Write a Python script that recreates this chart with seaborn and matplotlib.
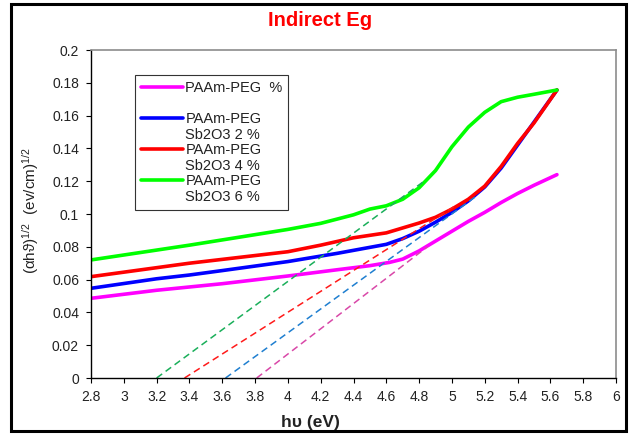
import numpy as np
import pandas as pd
import matplotlib
matplotlib.use("Agg")
import matplotlib.pyplot as plt
import seaborn as sns
from matplotlib.lines import Line2D
from matplotlib.patches import Rectangle
from matplotlib.ticker import FuncFormatter

# values: photon energy (eV) vs (alpha h nu)^1/2
x_peg = [2.8, 3.2, 3.6, 4.0, 4.3, 4.5, 4.62, 4.7, 4.8, 4.9, 5.0, 5.1, 5.2, 5.3, 5.4, 5.5, 5.64]
y_peg = [0.0486, 0.0535, 0.0575, 0.0622, 0.066, 0.0685, 0.0705, 0.0725, 0.0775, 0.0835,
         0.0895, 0.0955, 0.101, 0.107, 0.1125, 0.1175, 0.124]

x_sb2 = [2.8, 3.2, 3.4, 3.6, 4.0, 4.3, 4.6, 4.7, 4.8, 4.9, 5.0, 5.1, 5.2, 5.3, 5.4, 5.5, 5.64]
y_sb2 = [0.0547, 0.0605, 0.0628, 0.0655, 0.071, 0.076, 0.0815, 0.085, 0.0895, 0.095,
         0.101, 0.108, 0.1165, 0.128, 0.142, 0.156, 0.1756]

x_sb4 = [2.8, 3.4, 4.0, 4.2, 4.4, 4.6, 4.7, 4.8, 4.9, 5.0, 5.1, 5.2, 5.3, 5.4, 5.5, 5.64]
y_sb4 = [0.0618, 0.07, 0.077, 0.081, 0.0855, 0.0885, 0.0915, 0.0945, 0.098, 0.103,
         0.109, 0.117, 0.129, 0.143, 0.1555, 0.1756]

x_sb6 = [2.8, 3.4, 4.0, 4.2, 4.4, 4.5, 4.6, 4.7, 4.8, 4.9, 5.0, 5.1, 5.2, 5.3, 5.4, 5.5, 5.64]
y_sb6 = [0.072, 0.081, 0.0906, 0.0943, 0.0995, 0.103, 0.105, 0.109, 0.116, 0.1265,
         0.141, 0.153, 0.162, 0.1685, 0.1712, 0.173, 0.1756]

# tangent (extrapolation) lines: x-intercept and upper end point
tan_x = {"peg": [3.81, 4.85], "sb2": [3.62, 5.15], "sb4": [3.37, 5.02], "sb6": [3.20, 4.83]}
tan_y = {"peg": [0.0, 0.080], "sb2": [0.0, 0.111], "sb4": [0.0, 0.105], "sb6": [0.0, 0.120]}

series_names = ["peg", "sb2", "sb4", "sb6"]
curve_colors = {"peg": "#ff00ff", "sb2": "#0000ff", "sb4": "#ff0000", "sb6": "#00ff00"}
dash_colors = {"peg": "#d948a8", "sb2": "#1f7fd0", "sb4": "#ff1a1a", "sb6": "#1aaf5a"}
legend_lines = {
    "peg": ["PAAm-PEG  %", " "],
    "sb2": ["PAAm-PEG", "Sb2O3 2 %"],
    "sb4": ["PAAm-PEG", "Sb2O3 4 %"],
    "sb6": ["PAAm-PEG", "Sb2O3 6 %"],
}

df = pd.concat([
    pd.DataFrame({"hv": x_peg, "val": y_peg, "series": "peg"}),
    pd.DataFrame({"hv": x_sb2, "val": y_sb2, "series": "sb2"}),
    pd.DataFrame({"hv": x_sb4, "val": y_sb4, "series": "sb4"}),
    pd.DataFrame({"hv": x_sb6, "val": y_sb6, "series": "sb6"}),
], ignore_index=True)

sns.set_theme(style="white")
plt.rcParams["font.family"] = ["Liberation Sans", "DejaVu Sans"]
plt.rcParams["mathtext.default"] = "regular"

fig = plt.figure(figsize=(6.3, 4.36), dpi=100)
ax = fig.add_axes([91 / 630, 1 - 378 / 436, 525 / 630, 328 / 436])

for name in series_names:
    sub = df[df["series"] == name]
    sns.lineplot(data=sub, x="hv", y="val", color=curve_colors[name], linewidth=2.6,
                 estimator=None, sort=False, ax=ax, legend=False)

for name in series_names:
    sns.lineplot(x=tan_x[name], y=tan_y[name], color=dash_colors[name], linewidth=1.1,
                 linestyle=(0, (4.5, 2.8)), estimator=None, ax=ax, legend=False)

ax.set_xlim(2.8, 6.0)
ax.set_ylim(0, 0.2)
ax.set_xticks(np.round(np.arange(2.8, 6.01, 0.2), 1))
ax.set_yticks(np.round(np.arange(0, 0.201, 0.02), 2))
fmt = FuncFormatter(lambda v, p: f"{round(v, 2):g}")
ax.xaxis.set_major_formatter(fmt)
ax.yaxis.set_major_formatter(fmt)
ax.tick_params(axis="both", which="major", direction="out", length=3.6, width=0.8,
               color="black", labelsize=10, labelcolor="#222222", pad=5,
               bottom=True, left=True)

for side in ["left", "bottom"]:
    ax.spines[side].set_color("black")
    ax.spines[side].set_linewidth(1.0)
for side in ["top", "right"]:
    ax.spines[side].set_color("#8c8c8c")
    ax.spines[side].set_linewidth(1.2)

ax.set_xlabel("h\u03c5 (eV)", fontsize=12.5, fontweight="bold", color="#222222")
ax.xaxis.set_label_coords((310 - 91) / 525, -0.112)
ax.set_ylabel("(\u03b1h\u03d1)$^{1/2}$  (ev/cm)$^{1/2}$", fontsize=11, color="#222222")
ax.yaxis.set_label_coords(-0.095, 0.51)

fig.text(0.508, 1 - 21 / 436, "Indirect Eg", color="#ff0000", fontsize=14.5,
         fontweight="bold", ha="center", va="center")

# legend: first line carries the handle, second line hangs below it
handles, labels = [], []
for name in series_names:
    first, second = legend_lines[name]
    handles.append(Line2D([], [], color=curve_colors[name], linewidth=2.6))
    labels.append(first)
    handles.append(Line2D([], [], color="none"))
    labels.append(second)
leg = ax.legend(handles, labels, loc="upper left",
                bbox_to_anchor=((135 - 91) / 525, 1 - (75 - 50) / 328),
                borderaxespad=0, fontsize=10.5, frameon=True, fancybox=False,
                framealpha=1, edgecolor="#333333", handlelength=2.9,
                handletextpad=0.15, labelspacing=0.11, borderpad=0.4)
leg.get_frame().set_linewidth(0.8)
for t in leg.get_texts():
    t.set_color("#222222")

fig.patches.append(Rectangle((11 / 630, 5 / 436), 615 / 630, 427 / 436,
                             transform=fig.transFigure, fill=False,
                             edgecolor="black", linewidth=2.2))

fig.savefig("out.png", dpi=100)
